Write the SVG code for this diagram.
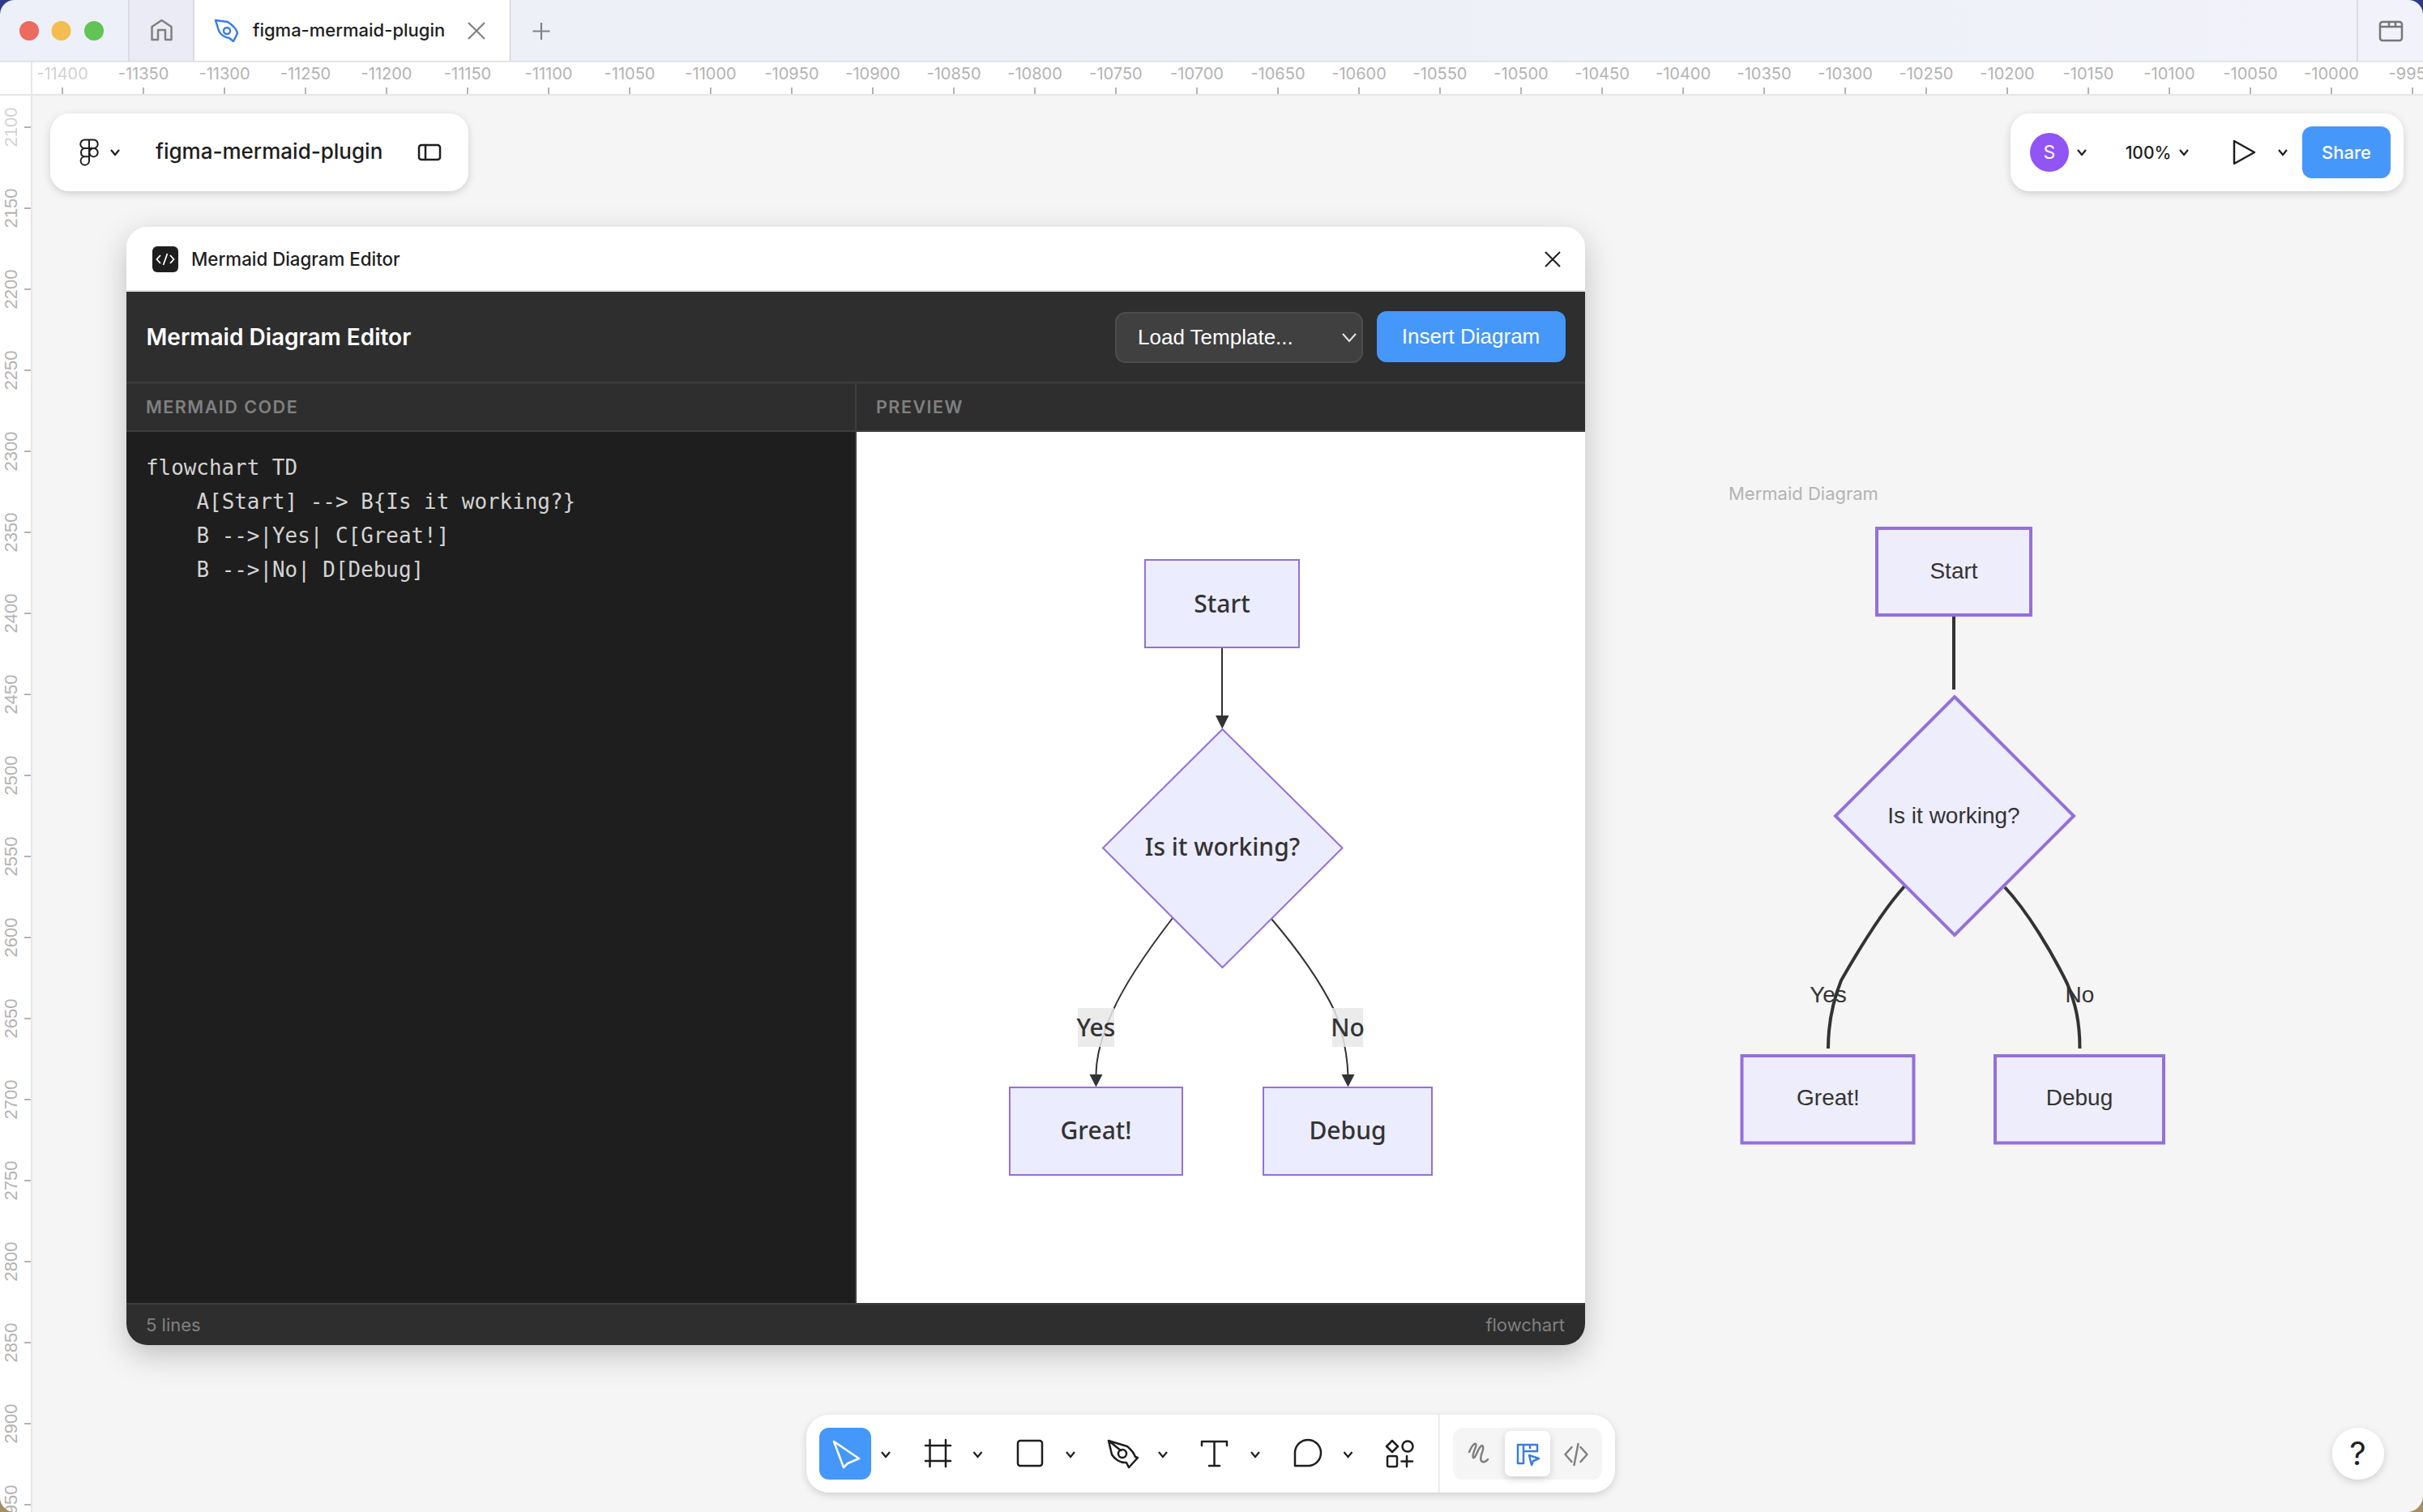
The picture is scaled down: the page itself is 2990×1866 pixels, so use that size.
<svg xmlns="http://www.w3.org/2000/svg" xmlns:xlink="http://www.w3.org/1999/xlink" width="2990" height="1866" viewBox="0 0 2990 1866">
<style>
text{font-family:"Inter","Liberation Sans",sans-serif}
.rt{font-size:20px;fill:#b3b3b3;text-anchor:middle}
.rl{font-family:"Liberation Sans",sans-serif;font-size:22px;fill:#b3b3b3;text-anchor:middle}
.tick{stroke:#b3b3b3;stroke-width:2;fill:none}
.ic{fill:none;stroke:#1e1e1e;stroke-width:2.5;stroke-linejoin:round;stroke-linecap:round}
.chev{fill:none;stroke:#1e1e1e;stroke-width:2.2}
.gray{stroke:#808080}
.blue{stroke:#3b7de0}
.panel{fill:#fff;filter:url(#sh)}
.mono{font-family:"DejaVu Sans Mono","Liberation Mono",monospace;font-size:25.9px;fill:#d4d4d4}
.hd{font-size:21.5px;font-weight:600;fill:#808080;letter-spacing:1.5px}
.ft{font-size:22px;fill:#808080}
.helv{font-family:"Liberation Sans",sans-serif;font-size:26px;fill:#fff}
.pn{fill:#ececff;stroke:#9370db;stroke-width:2}
.pt{font-family:"Noto Sans","DejaVu Sans",sans-serif;font-size:30px;font-weight:500;fill:#333;text-anchor:middle}
.pe{fill:none;stroke:#333;stroke-width:2}
.ph{fill:#333}
.pl{fill:#e8e8e8;opacity:.85}
.cn{fill:#eeedfb;stroke:#9370db;stroke-width:4}
.ct{font-family:"Liberation Sans",Arial,sans-serif;font-size:28px;fill:#333;text-anchor:middle}
.ce{fill:none;stroke:#333;stroke-width:4}
</style>
<defs>
<filter id="sh" x="-20%" y="-30%" width="140%" height="170%"><feDropShadow dx="0" dy="3" stdDeviation="5" flood-color="#000" flood-opacity=".16"/></filter>
<filter id="shw" x="-10%" y="-10%" width="120%" height="120%"><feDropShadow dx="0" dy="12" stdDeviation="18" flood-color="#000" flood-opacity=".22"/></filter>
<path id="ch" class="chev" d="M-5-3 0 3 5-3"/>
<linearGradient id="tb" x1="0" y1="0" x2="1" y2="0"><stop offset="0" stop-color="#eef0f9"/><stop offset=".6" stop-color="#eef0f8"/><stop offset="1" stop-color="#f1f2fa"/></linearGradient>
</defs>

<rect width="2990" height="1866" fill="#f5f5f5"/>

<g id="browser-bar">
<rect width="2990" height="76" fill="url(#tb)"/>
<rect x="159" y="0" width="80" height="75" fill="#ebebf5"/>
<rect x="239" y="0" width="391" height="76" fill="#fff"/>
<path d="M159 0V75M239 0V75M629.500 0V75M2909 0V75" stroke="#d3d3de" stroke-width="1.500"/>
<circle cx="36" cy="38" r="12" fill="#ee6a5f"/><circle cx="75.500" cy="38" r="12" fill="#f5bd4f"/><circle cx="116" cy="38" r="12" fill="#61c454"/>
<path class="ic gray" d="M187.500 49V33L199.500 25 211.500 33V49H204V37H195V49Z"/>
<g class="ic blue"><path d="M266 25 281 27C287 31 292 36 293 41L288 51 283 47C276 46 272 42 270 38Z"/><circle cx="280" cy="38" r="4"/></g>
<text x="312" y="45" font-size="22" font-weight="500" fill="#1e1e1e">figma-mermaid-plugin</text>
<path d="M578 28 598 48M598 28 578 48" stroke="#808080" stroke-width="2.200" fill="none"/>
<path d="M668 28V49M657.500 38.500H678.500" stroke="#808080" stroke-width="2.200" fill="none"/>
<g class="ic" style="stroke:#777"><rect x="2937" y="27" width="27" height="23" rx="3"/><path d="M2937 33H2964M2948 27V33M2956 27V33"/></g>
</g>

<g id="ruler-top">
<rect y="76" width="2990" height="41" fill="#fff"/>
<rect y="116" width="2990" height="2" fill="#e6e6e6"/>
<rect y="75" width="2990" height="1.500" fill="#dcdce4"/>
<path class="tick" d="M77 108V116M177 108V116M277 108V116M377 108V116M477 108V116M577 108V116M677 108V116M777 108V116M877 108V116M977 108V116M1077 108V116M1177 108V116M1277 108V116M1377 108V116M1477 108V116M1577 108V116M1677 108V116M1777 108V116M1877 108V116M1977 108V116M2077 108V116M2177 108V116M2277 108V116M2377 108V116M2477 108V116M2577 108V116M2677 108V116M2777 108V116M2877 108V116M2977 108V116"/>
<text class="rt" x="77" y="98" opacity=".6">-11400</text><text class="rt" x="177" y="98">-11350</text><text class="rt" x="277" y="98">-11300</text><text class="rt" x="377" y="98">-11250</text><text class="rt" x="477" y="98">-11200</text><text class="rt" x="577" y="98">-11150</text><text class="rt" x="677" y="98">-11100</text><text class="rt" x="777" y="98">-11050</text><text class="rt" x="877" y="98">-11000</text><text class="rt" x="977" y="98">-10950</text><text class="rt" x="1077" y="98">-10900</text><text class="rt" x="1177" y="98">-10850</text><text class="rt" x="1277" y="98">-10800</text><text class="rt" x="1377" y="98">-10750</text><text class="rt" x="1477" y="98">-10700</text><text class="rt" x="1577" y="98">-10650</text><text class="rt" x="1677" y="98">-10600</text><text class="rt" x="1777" y="98">-10550</text><text class="rt" x="1877" y="98">-10500</text><text class="rt" x="1977" y="98">-10450</text><text class="rt" x="2077" y="98">-10400</text><text class="rt" x="2177" y="98">-10350</text><text class="rt" x="2277" y="98">-10300</text><text class="rt" x="2377" y="98">-10250</text><text class="rt" x="2477" y="98">-10200</text><text class="rt" x="2577" y="98">-10150</text><text class="rt" x="2677" y="98">-10100</text><text class="rt" x="2777" y="98">-10050</text><text class="rt" x="2877" y="98">-10000</text><text class="rt" x="2977" y="98">-9950</text>
</g>

<g id="ruler-left">
<rect y="118" width="38" height="1748" fill="#fff"/>
<rect x="38" y="76" width="2" height="1790" fill="#e6e6e6"/>
<path class="tick" d="M30 157H38M30 257H38M30 357H38M30 457H38M30 557H38M30 657H38M30 757H38M30 857H38M30 957H38M30 1057H38M30 1157H38M30 1257H38M30 1357H38M30 1457H38M30 1557H38M30 1657H38M30 1757H38M30 1857H38"/>
<text class="rl" transform="translate(21 157) rotate(-90)" opacity=".6">2100</text><text class="rl" transform="translate(21 257) rotate(-90)">2150</text><text class="rl" transform="translate(21 357) rotate(-90)">2200</text><text class="rl" transform="translate(21 457) rotate(-90)">2250</text><text class="rl" transform="translate(21 557) rotate(-90)">2300</text><text class="rl" transform="translate(21 657) rotate(-90)">2350</text><text class="rl" transform="translate(21 757) rotate(-90)">2400</text><text class="rl" transform="translate(21 857) rotate(-90)">2450</text><text class="rl" transform="translate(21 957) rotate(-90)">2500</text><text class="rl" transform="translate(21 1057) rotate(-90)">2550</text><text class="rl" transform="translate(21 1157) rotate(-90)">2600</text><text class="rl" transform="translate(21 1257) rotate(-90)">2650</text><text class="rl" transform="translate(21 1357) rotate(-90)">2700</text><text class="rl" transform="translate(21 1457) rotate(-90)">2750</text><text class="rl" transform="translate(21 1557) rotate(-90)">2800</text><text class="rl" transform="translate(21 1657) rotate(-90)">2850</text><text class="rl" transform="translate(21 1757) rotate(-90)">2900</text><text class="rl" transform="translate(21 1857) rotate(-90)">2950</text>
</g>

<g id="file-panel">
<rect class="panel" x="62" y="140" width="516" height="96" rx="24"/>
<g class="ic" style="stroke-width:2"><path d="M110 172.500H104.500a5.200 5.200 0 0 0 0 10.500H110ZM110 172.500H115.500a5.200 5.200 0 0 1 0 10.500H110ZM110 183H104.500a5.200 5.200 0 0 0 0 10.300H110ZM110 193.300H104.500a5.200 5.200 0 1 0 5.500 5.200Z"/><circle cx="115.500" cy="188.200" r="5.200"/></g>
<use xlink:href="#ch" x="142" y="188"/>
<text x="192" y="196" font-size="26" font-weight="500" fill="#1e1e1e">figma-mermaid-plugin</text>
<g class="ic"><rect x="517" y="179" width="26" height="18" rx="3"/><path d="M525 179V197"/></g>
</g>

<g id="share-panel">
<rect class="panel" x="2481" y="140" width="485" height="96" rx="24"/>
<circle cx="2529" cy="188" r="24" fill="#9155f5"/>
<text x="2529" y="196" font-size="23" fill="#fff" text-anchor="middle">S</text>
<use xlink:href="#ch" x="2569" y="188"/>
<text x="2651" y="196" font-size="21" font-weight="500" fill="#1e1e1e" text-anchor="middle">100%</text>
<use xlink:href="#ch" x="2695" y="188"/>
<path class="ic" d="M2757 174 2782 188 2757 202Z"/>
<use xlink:href="#ch" x="2817" y="188"/>
<rect x="2841" y="156" width="109" height="64" rx="12" fill="#4597f9"/>
<text x="2895.500" y="196" font-size="22" font-weight="500" fill="#fff" text-anchor="middle">Share</text>
</g>

<g id="editor-window">
<rect x="156" y="280" width="1800" height="1380" rx="26" fill="#fff" filter="url(#shw)"/>
<path d="M156 360H1956V1634a26 26 0 0 1-26 26H182a26 26 0 0 1-26-26Z" fill="#2e2e2e"/>
<rect x="156" y="358" width="1800" height="2" fill="#e6e6e6"/>
<rect x="188" y="304" width="32" height="32" rx="6" fill="#1e1e1e"/>
<path d="M198 315 193.500 320 198 325M210 315 214.500 320 210 325M206.500 313 201.500 327" fill="none" stroke="#fff" stroke-width="1.800"/>
<text x="236" y="328" font-size="22.300" font-weight="500" fill="#1e1e1e">Mermaid Diagram Editor</text>
<path d="M1907 311 1925 329M1925 311 1907 329" stroke="#1e1e1e" stroke-width="2" fill="none"/>
<text x="180.500" y="426" font-size="28" font-weight="600" fill="#fff">Mermaid Diagram Editor</text>
<rect x="1377" y="386" width="304" height="61" rx="12" fill="#404040" stroke="#4d4d4d" stroke-width="2"/>
<text class="helv" x="1404" y="425">Load Template...</text>
<path d="M1657 412 1665 421 1673 412" fill="none" stroke="#e6e6e6" stroke-width="2"/>
<rect x="1699" y="384" width="233" height="63" rx="12" fill="#4597f9"/>
<text class="helv" x="1815" y="424" text-anchor="middle">Insert Diagram</text>
<rect x="156" y="471" width="1800" height="2.500" fill="#3d3d3d"/>
<rect x="1055" y="473" width="2" height="60" fill="#3d3d3d"/>
<text class="hd" x="180" y="510">MERMAID CODE</text>
<text class="hd" x="1081" y="510">PREVIEW</text>
<rect x="156" y="531" width="1800" height="2.500" fill="#3d3d3d"/>
<rect x="156" y="533" width="900" height="1075" fill="#1e1e1e"/>
<rect x="1055" y="533" width="2" height="1075" fill="#3d3d3d"/>
<rect x="1057" y="533" width="899" height="1075" fill="#fff"/>
<text class="mono" x="180" y="586">flowchart TD</text>
<text class="mono" x="242.500" y="628">A[Start] --&gt; B{Is it working?}</text>
<text class="mono" x="242.500" y="670">B --&gt;|Yes| C[Great!]</text>
<text class="mono" x="242.500" y="712">B --&gt;|No| D[Debug]</text>
<rect x="156" y="1608" width="1800" height="2" fill="#3d3d3d"/>
<text class="ft" x="180" y="1643">5 lines</text>
<text class="ft" x="1931" y="1643" text-anchor="end">flowchart</text>
</g>

<g id="preview-connectors">
<path class="pe" d="M1508 800V885"/>
<path class="ph" d="M1500 883H1516.500L1508.300 899.500Z"/>
<path class="pe" d="M1447 1133C1420 1168 1390 1210 1373 1248C1360 1277 1352 1305 1352.500 1329"/>
<path class="ph" d="M1344.500 1326H1360.500L1352.500 1341.500Z"/>
<path class="pe" d="M1569 1134C1598 1168 1628 1208 1647 1248C1658 1277 1663 1305 1663.500 1329"/>
<path class="ph" d="M1655.500 1326H1671.500L1663.500 1341.500Z"/>
<rect class="pl" x="1330" y="1244" width="45" height="48"/>
<text class="pt" x="1352.500" y="1279">Yes</text>
<rect class="pl" x="1644" y="1244" width="38" height="48"/>
<text class="pt" x="1663" y="1279">No</text>
</g>
<g id="preview-start"><rect class="pn" x="1413" y="691" width="190" height="108"/><text class="pt" x="1508" y="756">Start</text></g>
<g id="preview-decision"><polygon class="pn" points="1508.500,900 1656.500,1046.500 1508.500,1194 1361,1046.500"/><text class="pt" x="1508.500" y="1056">Is it working?</text></g>
<g id="preview-great"><rect class="pn" x="1246" y="1342" width="213" height="108"/><text class="pt" x="1352.500" y="1406">Great!</text></g>
<g id="preview-debug"><rect class="pn" x="1559" y="1342" width="208" height="108"/><text class="pt" x="1663" y="1406">Debug</text></g>

<text x="2133" y="617" font-size="22" fill="#b3b3b3">Mermaid Diagram</text>
<g id="canvas-connectors">
<path class="ce" d="M2411 761V851"/>
<path class="ce" d="M2350 1094C2322 1125 2292 1175 2272 1210C2262 1235 2256 1260 2256 1294"/>
<path class="ce" d="M2474 1095C2502 1125 2532 1175 2551 1214C2561 1238 2566.500 1260 2566.500 1294"/>
<text class="ct" x="2256" y="1237">Yes</text>
<text class="ct" x="2566.500" y="1237">No</text>
</g>
<g id="canvas-start"><rect class="cn" x="2316" y="652" width="190" height="107"/><text class="ct" x="2411" y="714">Start</text></g>
<g id="canvas-decision"><polygon class="cn" points="2412,860 2559,1007 2412,1154 2265,1007"/><text class="ct" x="2411" y="1016">Is it working?</text></g>
<g id="canvas-great"><rect class="cn" x="2149.500" y="1303" width="212" height="107.500"/><text class="ct" x="2256" y="1364">Great!</text></g>
<g id="canvas-debug"><rect class="cn" x="2462" y="1303" width="208" height="107.500"/><text class="ct" x="2566" y="1364">Debug</text></g>

<g id="toolbar">
<rect class="panel" x="995" y="1746" width="998" height="96" rx="28"/>
<rect x="1011" y="1762" width="64" height="64" rx="12" fill="#4597f9"/>
<path d="M1029 1779 1060 1800 1046 1806 1041 1811Z" fill="none" stroke="#fff" stroke-width="2.500" stroke-linejoin="round"/>
<use xlink:href="#ch" x="1093" y="1795"/><use xlink:href="#ch" x="1206.500" y="1795"/><use xlink:href="#ch" x="1321" y="1795"/><use xlink:href="#ch" x="1435" y="1795"/><use xlink:href="#ch" x="1549" y="1795"/><use xlink:href="#ch" x="1663.500" y="1795"/>
<path class="ic" d="M1142 1784H1173M1142 1803H1173M1147.500 1777V1810M1167 1777V1810"/>
<rect class="ic" x="1256" y="1778" width="30" height="31" rx="3"/>
<g class="ic"><path d="M1368 1778 1391 1785C1397 1790 1400 1795 1401 1798L1404 1799 1393 1811 1390 1805C1382 1806 1375 1800 1372 1795ZM1368 1778 1383 1790"/><circle cx="1385" cy="1794" r="5"/></g>
<path class="ic" d="M1483 1784V1779H1514V1784M1498.500 1779V1809M1492 1809H1505"/>
<path class="ic" d="M1598 1809V1793A16 16 0 1 1 1614 1809Z"/>
<g class="ic"><path d="M1718 1778 1725 1785 1718 1792 1711 1785Z"/><circle cx="1737" cy="1785" r="6.500"/><rect x="1712" y="1797" width="12" height="13" rx="2"/><path d="M1736 1797V1810M1729.500 1803.500H1743"/></g>
<rect x="1775" y="1746" width="1.500" height="96" fill="#e6e6e6"/>
<rect x="1793" y="1762" width="184" height="64" rx="12" fill="#f5f5f5"/>
<rect x="1857" y="1766" width="56" height="56" rx="8" fill="#fff" filter="url(#sh)"/>
<path class="ic gray" d="M1813 1792C1818 1780 1823 1779 1821 1786C1815 1800 1818 1805 1824 1790C1830 1778 1832 1786 1828 1795C1825 1806 1832 1806 1836 1801"/>
<g class="ic blue"><path d="M1873 1783H1897V1791H1880V1806H1873ZM1880 1783V1791M1888 1783V1787"/><path d="M1887 1796 1899 1800 1892 1803 1890 1808Z"/></g>
<path class="ic gray" d="M1940 1786 1932 1795 1940 1804M1951 1786 1959 1795 1951 1804M1948 1782 1943 1808" transform="translate(-.5)"/>
</g>

<g id="help"><circle cx="2910" cy="1794" r="32" fill="#fff" filter="url(#sh)"/><text x="2909.500" y="1808" font-size="40" fill="#1e1e1e" text-anchor="middle">?</text></g>

<g id="window-corners">
<path d="M0 0H18A18 18 0 0 0 0 18Z" fill="#2b3a8c"/>
<path d="M2990 0H2972A18 18 0 0 1 2990 18Z" fill="#2b3a8c"/>
<path d="M0 1866V1848A18 18 0 0 0 18 1866Z" fill="#a58e62"/>
<path d="M2990 1866V1846A20 20 0 0 1 2970 1866Z" fill="#a58e62"/>
</g>
</svg>
